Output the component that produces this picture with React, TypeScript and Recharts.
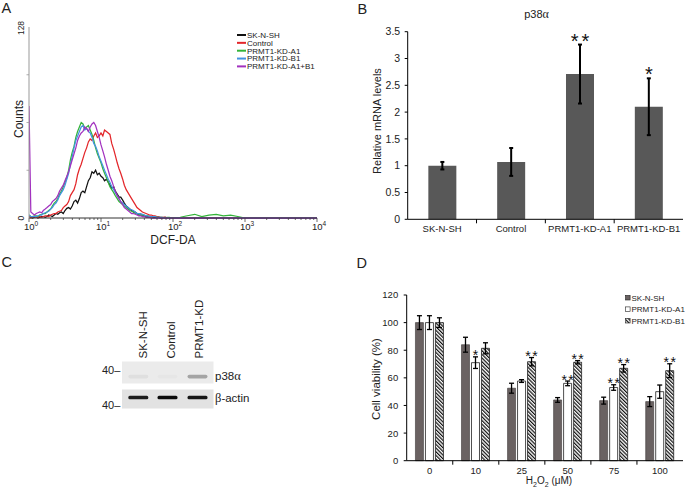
import React from 'react';
import { LineChart, Line, XAxis, YAxis, BarChart, Bar, ErrorBar, LabelList } from 'recharts';

const FONT = '"Liberation Sans", Arial, Helvetica, sans-serif';
const SERIF = '"Liberation Serif", "DejaVu Serif", serif';

// ---------------- Panel A: DCF-DA histogram ----------------
const dcfBins = [1, 1.06, 1.12, 1.19, 1.26, 1.33, 1.41, 1.5, 1.58, 1.68, 1.78, 1.88, 2, 2.11, 2.24, 2.37, 2.51, 2.66, 2.82, 2.99,
  3.16, 3.35, 3.55, 3.76, 3.98, 4.22, 4.47, 4.73, 5.01, 5.31, 5.62, 5.96, 6.31, 6.68, 7.08, 7.5, 7.94, 8.41, 8.91, 9.44,
  10, 10.6, 11.2, 11.9, 12.6, 13.3, 14.1, 15, 15.8, 16.8, 17.8, 18.8, 20, 21.1, 22.4, 23.7, 25.1, 26.6, 28.2, 29.9,
  31.6, 33.5, 35.5, 37.6, 39.8, 42.2, 44.7, 47.3, 50.1, 53.1, 56.2, 59.6, 63.1, 66.8, 70.8, 75, 79.4, 84.1, 89.1, 94.4, 100];
const countsSK = [1, 0.5, 0, 0.5, 1, 0, 0.5, 1, 1, 0.5, 1, 2, 1.5, 1, 2, 3, 2.5, 3.5, 4, 3,
  5, 6.5, 7, 6, 8, 11, 12, 10, 13, 17, 18, 17, 21, 25, 27, 31, 30, 32, 29, 30,
  28, 27, 25, 26, 24, 22, 20, 21, 18, 16, 14, 14, 12, 10, 8, 7, 6, 5, 4, 4,
  3, 2, 2, 2, 1.5, 1, 1, 1, 1, 0.5, 0.5, 0.5, 0.5, 0, 0, 0.5, 0.5, 0, 0, 0, 0];
const countsControl = [1, 0, 0.5, 1, 0.5, 0.5, 1, 0.5, 1, 1.5, 1.5, 1, 2, 2.5, 3, 3, 4, 4.5, 5, 7,
  8, 9, 11, 15, 17, 19, 23, 29, 33, 36, 40, 44, 47, 51, 53, 52, 55, 57, 54, 55,
  57, 55, 59, 58, 57, 56, 50, 46, 42, 37, 33, 30, 26, 22, 19, 17, 15, 13, 11, 9,
  7, 6, 5, 4, 3.5, 3, 2.5, 2, 2, 1.5, 1.5, 1, 1, 0.5, 0.5, 0.5, 0.5, 0, 0, 0, 0];
const countsA1 = [2, 1, 1, 1.5, 1.5, 1, 2, 2.5, 3, 3, 4, 5, 6, 8, 10, 11, 13, 16, 18, 21,
  24, 27, 32, 39, 44, 48, 54, 58, 61, 64, 63, 60, 61, 62, 59, 56, 52, 47, 43, 40,
  37, 33, 30, 27, 24, 21, 19, 17, 15, 13, 11, 10, 9, 8, 7, 6, 5, 4.5, 4, 3,
  3, 2.5, 2, 2, 2, 1.5, 1.5, 1, 1, 1, 1, 0.5, 0.5, 0.5, 0.5, 0, 0, 0.5, 0.5, 0, 0];
const countsB1 = [2, 1, 1, 1, 1, 1.5, 2, 2, 3, 3.5, 4, 4.5, 6, 7, 9, 10, 12, 15, 17, 19,
  22, 26, 30, 36, 41, 47, 52, 55, 58, 61, 62, 59, 60, 58, 57, 54, 50, 48, 45, 41,
  38, 35, 32, 29, 26, 24, 21, 19, 17, 15, 13, 11, 10, 9, 8, 7, 6, 5.5, 5, 4,
  3, 3, 3, 2.5, 2, 1.5, 1.5, 1, 1, 1, 1, 0.5, 0.5, 0.5, 0.5, 0, 0, 0, 0, 0, 0];
const countsA1B1 = [75, 4, 3, 2, 3, 3.5, 4, 3.5, 5, 6, 7, 8, 9, 11, 12, 13, 15, 18, 20, 22,
  25, 28, 31, 35, 39, 43, 47, 52, 55, 57, 58, 61, 60, 58, 61, 63, 64, 62, 58, 54,
  49, 45, 41, 36, 32, 28, 25, 21, 18, 15, 13, 11, 9, 7, 6, 5, 4, 3, 3, 2.5,
  2, 1.5, 1.5, 1, 1, 0.5, 0.5, 0.5, 0, 0, 0, 0, 0, 0, 0, 0, 0, 0, 0, 0, 0];
const tailBins = [126, 158, 200, 251, 316, 398, 501, 631, 794, 1000, 10000];
const tailA1 = [0.5, 1.5, 2.5, 1, 2, 2.5, 1.5, 2, 1, 0, 0];
const tailFlat = [0, 0, 0, 0, 0, 0, 0, 0, 0, 0, 0];
const histNames = ['SK-N-SH', 'Control', 'PRMT1-KD-A1', 'PRMT1-KD-B1', 'PRMT1-KD-A1+B1'];
const histColors = ['#111111', '#e3262a', '#34b43a', '#4493e0', '#a232bf'];
const logTicks = [1, 2, 3, 4, 5, 6, 7, 8, 9, 10, 20, 30, 40, 50, 60, 70, 80, 90, 100, 200, 300, 400, 500, 600, 700, 800, 900, 1000, 2000, 3000, 4000, 5000, 6000, 7000, 8000, 9000, 10000];
const countTicks = [0, 32, 64, 96, 128];

const histCounts = [countsSK, countsControl, countsA1, countsB1, countsA1B1];
const histTails = [tailFlat, tailFlat, tailA1, tailFlat, tailFlat];
const histData = histCounts.map((c, k) => [
  ...dcfBins.map((x, i) => ({ x, c: c[i] })),
  ...tailBins.map((x, i) => ({ x, c: histTails[k][i] })),
]);

// ---------------- Panel B: p38a mRNA ----------------
const bCats = ['SK-N-SH', 'Control', 'PRMT1-KD-A1', 'PRMT1-KD-B1'];
const bMean = [1.0, 1.07, 2.71, 2.1];
const bErr = [0.07, 0.26, 0.55, 0.53];
const bSig = ['', '', '**', '*'];
const bTicks = [0, 0.5, 1, 1.5, 2, 2.5, 3, 3.5];
const bRows = bCats.map((name, i) => ({ name, v: bMean[i], e: bErr[i], sig: bSig[i] }));

// ---------------- Panel C: western blot ----------------
const laneNames = ['SK-N-SH', 'Control', 'PRMT1-KD'];
const p38Band = [0.05, 0.02, 0.3];
const actinBand = [0.88, 0.95, 0.9];

// ---------------- Panel D: cell viability ----------------
const doses = ['0', '10', '25', '50', '75', '100'];
const skMean = [100, 84, 52.5, 44, 43.5, 42.8];
const skErr = [5, 5.4, 3.6, 1.7, 2.5, 3.6];
const a1Mean = [100, 71, 57.7, 56, 53, 50];
const a1Err = [5, 4.2, 1, 1.7, 2, 4.8];
const b1Mean = [100, 81.4, 71.7, 71.3, 66.9, 65.2];
const b1Err = [3.5, 4, 3, 1.2, 2.7, 5];
const a1Sig = ['', '*', '', '**', '**', ''];
const b1Sig = ['', '', '**', '**', '**', '**'];
const dTicks = [0, 20, 40, 60, 80, 100, 120];
const dNames = ['SK-N-SH', 'PRMT1-KD-A1', 'PRMT1-KD-B1'];
const dRows = doses.map((dose, i) => ({
  dose, sk: skMean[i], skE: skErr[i], a1: a1Mean[i], a1E: a1Err[i], b1: b1Mean[i], b1E: b1Err[i],
  a1S: a1Sig[i], b1S: b1Sig[i],
}));

// ---------------- tick renderers ----------------
const LogTick = (props: any) => {
  const { x, y, payload } = props;
  const v = payload.value;
  const exp = Math.log10(v);
  const major = Math.abs(exp - Math.round(exp)) < 1e-6;
  return (
    <g>
      <line x1={x} x2={x} y1={y} y2={y + (major ? 4 : 2)} stroke="#444" strokeWidth={0.8} />
      {major && (
        <text x={x + 2} y={y + 12} textAnchor="middle" fontSize={9.5} fill="#222" fontFamily={FONT}>
          10<tspan dy={-4} fontSize={6.5}>{Math.round(exp)}</tspan>
        </text>
      )}
    </g>
  );
};

const CountTick = (props: any) => {
  const { x, y, payload } = props;
  const v = payload.value;
  if (v === 128 || v === 0) {
    const yy = y + (v === 128 ? 1 : 0);
    return (
      <text transform={`rotate(-90 23.5 ${yy})`} x={23.5} y={yy} textAnchor="middle" fontSize={8.5} fill="#222" fontFamily={FONT}>
        {v}
      </text>
    );
  }
  return <line x1={x} x2={x - 2.5} y1={y} y2={y} stroke="#999" strokeWidth={0.8} />;
};

const numTick = (fs: number, off: number) => (props: any) => {
  const { x, y, payload } = props;
  return (
    <g>
      <line x1={x} x2={x - 3} y1={y} y2={y} stroke="#000" strokeWidth={1} />
      <text x={x - off} y={y + fs * 0.36} textAnchor="end" fontSize={fs} fill="#222" fontFamily={FONT}>
        {payload.value}
      </text>
    </g>
  );
};

const catTick = (band: number, fs: number, dy: number) => (props: any) => {
  const { x, y, payload, index } = props;
  return (
    <g>
      {index > 0 && <line x1={x - band / 2} x2={x - band / 2} y1={y} y2={y + 4} stroke="#000" strokeWidth={1} />}
      <text x={x} y={y + dy} textAnchor="middle" fontSize={fs} fill="#222" fontFamily={FONT}>
        {payload.value}
      </text>
    </g>
  );
};

const sigLabel = (means: number[], errs: number[], sigs: string[], fs: number, dy: number, ls: number) => (props: any) => {
  const vb = props.viewBox && props.viewBox.width !== undefined ? props.viewBox : props;
  const { x, y, width, height } = vb;
  const i = props.index;
  const s = sigs[i];
  if (!s) return null;
  const ppu = height / means[i];
  const top = y - errs[i] * ppu;
  const spacing = s.length > 1 ? ls : 0;
  return (
    <text x={x + width / 2 + spacing / 2} y={top + dy} textAnchor="middle" fontSize={fs} letterSpacing={spacing} fill="#111" fontFamily={FONT}>
      {s}
    </text>
  );
};

const B_BAND = (345 - 67.7 - 2) / 4;
const D_BAND = (345 - 66.7 - 2) / 6;

export default function App() {
  return (
    <div style={{ position: 'absolute', left: 0, top: 0, width: 685, height: 490, background: '#fff', overflow: 'hidden', fontFamily: FONT }}>
      <svg width={0} height={0} style={{ position: 'absolute', left: 0, top: 0 }}>
        <defs>
          <pattern id="hatchB1" patternUnits="userSpaceOnUse" width={2.6} height={2.6} patternTransform="rotate(-45)">
            <rect width={2.6} height={2.6} fill="#ffffff" />
            <line x1={0.6} y1={0} x2={0.6} y2={2.6} stroke="#111" strokeWidth={1.25} />
          </pattern>
        </defs>
      </svg>

      {/* Panel A */}
      <div style={{ position: 'absolute', left: 0, top: 0 }}>
        <LineChart width={345} height={250} margin={{ top: 27, right: 28, bottom: 12, left: 9 }}>
          <XAxis type="number" dataKey="x" scale="log" domain={[1, 10000]} ticks={logTicks} interval={0} height={20}
            tickSize={0} tickMargin={0} tickLine={false} tick={LogTick} axisLine={{ stroke: '#333' }} allowDataOverflow />
          <YAxis type="number" domain={[0, 128]} ticks={countTicks} interval={0} width={20}
            tickSize={0} tickMargin={0} tickLine={false} tick={CountTick} axisLine={{ stroke: '#999' }} />
          {histData.map((d, k) => (
            <Line key={histNames[k]} data={d} dataKey="c" name={histNames[k]} type="linear" stroke={histColors[k]}
              strokeWidth={1.25} dot={false} activeDot={false} isAnimationActive={false} />
          ))}
        </LineChart>
      </div>

      {/* Panel B */}
      <div style={{ position: 'absolute', left: 340, top: 0 }}>
        <BarChart width={345} height={250} data={bRows} margin={{ top: 31.7, right: 2, bottom: 10.7, left: 27.7 }} barCategoryGap="30%">
          <XAxis dataKey="name" height={20} tickSize={0} tickMargin={0} tickLine={false} interval={0}
            tick={catTick(B_BAND, 9.5, 13)} axisLine={{ stroke: '#000' }} />
          <YAxis type="number" domain={[0, 3.5]} ticks={bTicks} interval={0} width={40} tickSize={0} tickMargin={0}
            tickLine={false} tick={numTick(10.5, 7.5)} axisLine={{ stroke: '#000' }} />
          <Bar dataKey="v" fill="#585858" isAnimationActive={false}>
            <ErrorBar dataKey="e" width={2} strokeWidth={2} stroke="#000" direction="y" />
            <LabelList dataKey="sig" content={sigLabel(bMean, bErr, bSig, 20, 3, 3)} />
          </Bar>
        </BarChart>
      </div>

      {/* Panel D */}
      <div style={{ position: 'absolute', left: 340, top: 250 }}>
        <BarChart width={345} height={240} data={dRows} margin={{ top: 45, right: 2, bottom: 9.3, left: 26.7 }} barCategoryGap="19%" barGap={2}>
          <XAxis dataKey="dose" height={20} tickSize={0} tickMargin={0} tickLine={false} interval={0}
            tick={catTick(D_BAND, 9.5, 13.5)} axisLine={{ stroke: '#000' }} />
          <YAxis type="number" domain={[0, 120]} ticks={dTicks} interval={0} width={40} tickSize={0} tickMargin={0}
            tickLine={false} tick={numTick(9.5, 8.5)} axisLine={{ stroke: '#000' }} />
          <Bar dataKey="sk" name={dNames[0]} fill="#6a6262" stroke="#3d3838" strokeWidth={0.6} isAnimationActive={false}>
            <ErrorBar dataKey="skE" width={2.5} strokeWidth={1.3} stroke="#000" direction="y" />
          </Bar>
          <Bar dataKey="a1" name={dNames[1]} fill="#ffffff" stroke="#222" strokeWidth={0.8} isAnimationActive={false}>
            <ErrorBar dataKey="a1E" width={2.5} strokeWidth={1.3} stroke="#000" direction="y" />
            <LabelList dataKey="a1S" content={sigLabel(a1Mean, a1Err, a1Sig, 14, 3.5, 1.5)} />
          </Bar>
          <Bar dataKey="b1" name={dNames[2]} fill="url(#hatchB1)" stroke="#222" strokeWidth={0.8} isAnimationActive={false}>
            <ErrorBar dataKey="b1E" width={2.5} strokeWidth={1.3} stroke="#000" direction="y" />
            <LabelList dataKey="b1S" content={sigLabel(b1Mean, b1Err, b1Sig, 14, 3.5, 1.5)} />
          </Bar>
        </BarChart>
      </div>

      {/* Overlay texts, legends and panel C */}
      <svg width={685} height={490} style={{ position: 'absolute', left: 0, top: 0, pointerEvents: 'none' }} fontFamily={FONT} fill="#222">
        <text x={1.5} y={12.5} fontSize={14.5}>A</text>
        <text x={357.5} y={13.5} fontSize={14.5}>B</text>
        <text x={1.5} y={267} fontSize={14.5}>C</text>
        <text x={356.5} y={268} fontSize={14.5}>D</text>

        {/* A */}
        <text transform="rotate(-90 23 119)" x={23} y={119} textAnchor="middle" fontSize={12}>Counts</text>
        <text x={173} y={243.5} textAnchor="middle" fontSize={12}>DCF-DA</text>
        {histNames.map((n, k) => {
          const cy = 35 + k * 7.85;
          return (
            <g key={n}>
              <line x1={237} x2={246} y1={cy} y2={cy} stroke={histColors[k]} strokeWidth={2} />
              <text x={247} y={cy + 2.9} fontSize={8}>{n}</text>
            </g>
          );
        })}

        {/* B */}
        <text x={536.5} y={18} textAnchor="middle" fontSize={11}>p38<tspan fontFamily={SERIF} fontSize={12}>α</tspan></text>
        <text transform="rotate(-90 381 121)" x={381} y={121} textAnchor="middle" fontSize={11}>Relative mRNA levels</text>

        {/* D */}
        <text transform="rotate(-90 379.5 379)" x={379.5} y={379} textAnchor="middle" fontSize={11.5}>Cell viability (%)</text>
        <text x={549} y={484} textAnchor="middle" fontSize={10}>
          H<tspan dy={2.5} fontSize={7}>2</tspan><tspan dy={-2.5}>O</tspan><tspan dy={2.5} fontSize={7}>2</tspan><tspan dy={-2.5}> (μM)</tspan>
        </text>
        {dNames.map((n, k) => {
          const cy = 297.7 + k * 11.5;
          const fill = k === 0 ? '#6a6262' : k === 1 ? '#ffffff' : 'url(#hatchB1)';
          return (
            <g key={n}>
              <rect x={625.5} y={cy - 2.3} width={4.6} height={4.6} fill={fill} stroke="#222" strokeWidth={0.6} />
              <text x={631.5} y={cy + 2.9} fontSize={8}>{n}</text>
            </g>
          );
        })}

        {/* C: western blot */}
        <rect x={122} y={361.5} width={91.5} height={22} fill="#ebebeb" />
        <rect x={122} y={389.5} width={91.5} height={19} fill="#e2e2e2" />
        {laneNames.map((n, k) => {
          const cx = [138.3, 167.5, 197.5][k];
          const bx = [146.5, 175, 203.3][k];
          return (
            <g key={n}>
              <rect x={cx - 10} y={374.8} width={20} height={3.6} rx={1.8} fill="#000" opacity={p38Band[k]} />
              <rect x={cx - 10} y={395.8} width={20} height={3.4} rx={1.5} fill="#000" opacity={actinBand[k]} />
              <text transform={`rotate(-90 ${bx} 358.5)`} x={bx} y={358.5} fontSize={11.5}>{n}</text>
            </g>
          );
        })}
        <text x={102} y={374} fontSize={11}>40–</text>
        <text x={102} y={409} fontSize={11}>40–</text>
        <text x={215} y={380} fontSize={11.5}>p38<tspan fontFamily={SERIF} fontSize={12.5}>α</tspan></text>
        <text x={215} y={402} fontSize={11.5}><tspan fontFamily={SERIF} fontSize={12.5}>β</tspan>-actin</text>
      </svg>
    </div>
  );
}
